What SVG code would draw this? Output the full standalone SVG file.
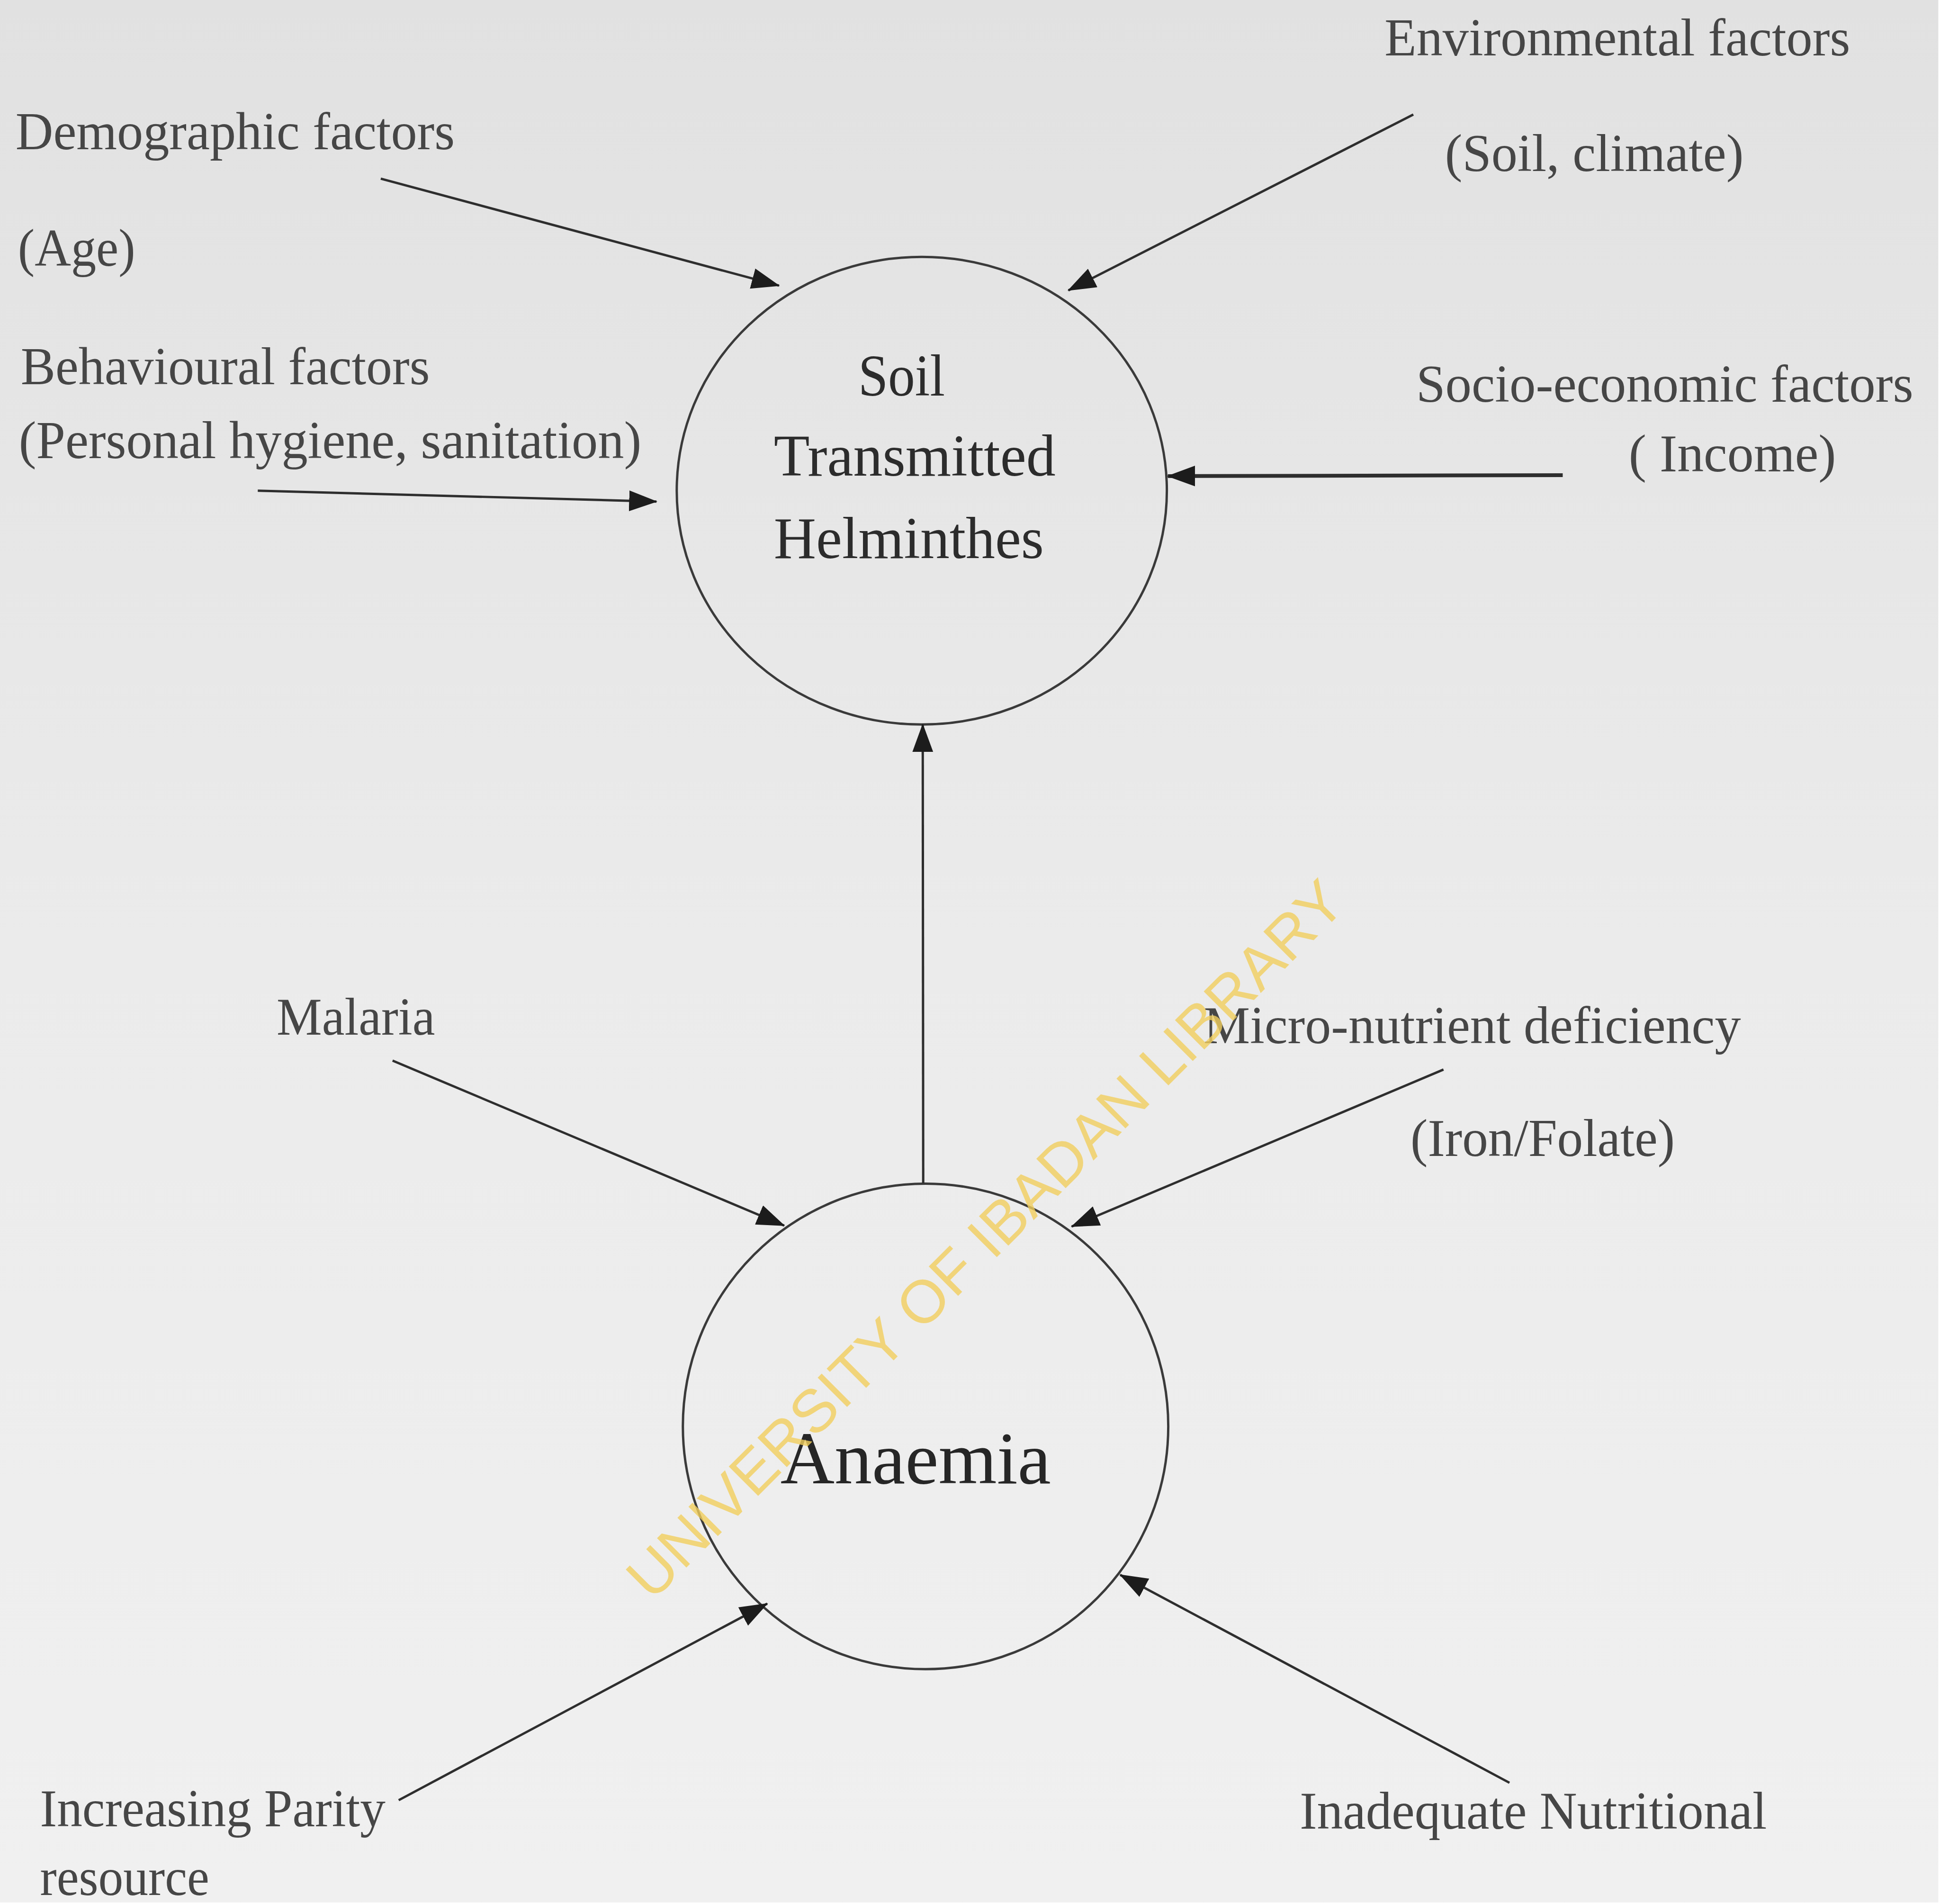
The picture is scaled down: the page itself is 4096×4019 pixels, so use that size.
<svg xmlns="http://www.w3.org/2000/svg" width="4096" height="4019" viewBox="0 0 4096 4019">
<defs>
<linearGradient id="bg" x1="0" y1="0" x2="0" y2="1">
<stop offset="0" stop-color="#e1e1e1"/>
<stop offset="0.5" stop-color="#ebebeb"/>
<stop offset="1" stop-color="#f0f0f0"/>
</linearGradient>
<marker id="ah" markerUnits="userSpaceOnUse" markerWidth="62" markerHeight="46" refX="58" refY="22" orient="auto">
<path d="M0,0 L60,22 L0,44 z" fill="#1c1c1c"/>
</marker>
<style>
.lbl{font-family:"Liberation Serif","Times New Roman",serif;font-size:112px;fill:#464646}
.ctx{font-family:"Liberation Serif","Times New Roman",serif;font-size:125px;fill:#2c2c2c}
.big{font-family:"Liberation Serif","Times New Roman",serif;font-size:158px;fill:#262626}
.node{fill:none;stroke:#3a3a3a;stroke-width:5}
.con{stroke:#2e2e2e;stroke-width:5;fill:none;marker-end:url(#ah)}
.wm{font-family:"Liberation Sans",Arial,sans-serif;font-size:128px;fill:#f2cf5e;opacity:0.8}
</style>
</defs>
<g transform="scale(0.995)">
<rect x="0" y="0" width="4113" height="4036" fill="url(#bg)"/>

<g id="labels">
<text class="lbl" x="33" y="317" textLength="932" lengthAdjust="spacingAndGlyphs">Demographic factors</text>
<text class="lbl" x="38" y="564" textLength="249" lengthAdjust="spacingAndGlyphs">(Age)</text>
<text class="lbl" x="44" y="815" textLength="868" lengthAdjust="spacingAndGlyphs">Behavioural factors</text>
<text class="lbl" x="40" y="972" textLength="1321" lengthAdjust="spacingAndGlyphs">(Personal hygiene, sanitation)</text>
<text class="lbl" x="2938" y="118" textLength="988" lengthAdjust="spacingAndGlyphs">Environmental factors</text>
<text class="lbl" x="3066" y="363" textLength="634" lengthAdjust="spacingAndGlyphs">(Soil, climate)</text>
<text class="lbl" x="3005" y="852" textLength="1055" lengthAdjust="spacingAndGlyphs">Socio-economic factors</text>
<text class="lbl" x="3456" y="1000" textLength="440" lengthAdjust="spacingAndGlyphs">( Income)</text>
<text class="lbl" x="587" y="2195" textLength="336" lengthAdjust="spacingAndGlyphs">Malaria</text>
<text class="lbl" x="2554" y="2213" textLength="1140" lengthAdjust="spacingAndGlyphs">Micro-nutrient deficiency</text>
<text class="lbl" x="2993" y="2452" textLength="561" lengthAdjust="spacingAndGlyphs">(Iron/Folate)</text>
<text class="lbl" x="85" y="3874" textLength="733" lengthAdjust="spacingAndGlyphs">Increasing Parity</text>
<text class="lbl" x="85" y="4020" textLength="359" lengthAdjust="spacingAndGlyphs">resource</text>
<text class="lbl" x="2758" y="3879" textLength="991" lengthAdjust="spacingAndGlyphs">Inadequate Nutritional</text>
</g>

<g id="node-sth">
<ellipse class="node" cx="1956" cy="1041" rx="520" ry="496"/>
<text class="ctx" x="1821" y="839" textLength="184" lengthAdjust="spacingAndGlyphs">Soil</text>
<text class="ctx" x="1642" y="1009" textLength="598" lengthAdjust="spacingAndGlyphs">Transmitted</text>
<text class="ctx" x="1642" y="1184" textLength="573" lengthAdjust="spacingAndGlyphs">Helminthes</text>
</g>

<g id="node-anaemia">
<circle class="node" cx="1964" cy="3026" r="515"/>
<text class="big" x="1656" y="3147" textLength="574" lengthAdjust="spacingAndGlyphs">Anaemia</text>
</g>

<g id="connectors">
<line class="con" x1="808" y1="379" x2="1653" y2="606"/>
<line class="con" x1="2999" y1="243" x2="2267" y2="616"/>
<line class="con" x1="547" y1="1041" x2="1393" y2="1064"/>
<line class="con" x1="3316" y1="1008" x2="2478" y2="1010" style="stroke-width:8"/>
<line class="con" x1="1959" y1="2510" x2="1958" y2="1537"/>
<line class="con" x1="833" y1="2250" x2="1664" y2="2600"/>
<line class="con" x1="3063" y1="2269" x2="2274" y2="2602"/>
<line class="con" x1="846" y1="3819" x2="1628" y2="3402"/>
<line class="con" x1="3203" y1="3782" x2="2377" y2="3341"/>
</g>

<text class="wm" transform="translate(2122,2660) rotate(-45)" text-anchor="middle" textLength="2090" lengthAdjust="spacingAndGlyphs">UNIVERSITY OF IBADAN LIBRARY</text>
</g>
</svg>
